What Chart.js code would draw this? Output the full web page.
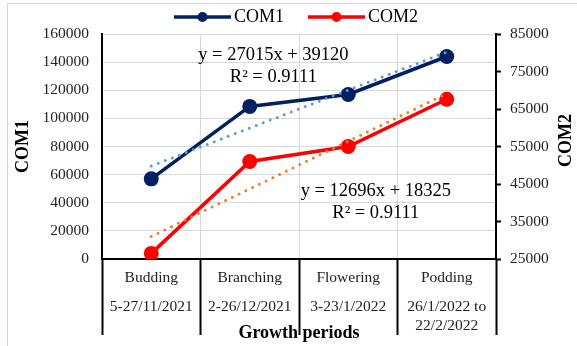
<!DOCTYPE html>
<html>
<head>
<meta charset="utf-8">
<script src="https://cdn.jsdelivr.net/npm/chart.js@4.4.0/dist/chart.umd.min.js"></script>
<style>
  html, body { margin: 0; padding: 0; background: #fff; overflow: hidden; }
  #frame { position: absolute; left: 7px; top: 3px; width: 620px; height: 400px; border: 1px solid #d9d9d9; }
  #chart { position: absolute; left: 0; top: 0; }
</style>
</head>
<body>
<div id="frame"></div>
<canvas id="chart" width="577" height="346"></canvas>
<script>
// growth stages and their date ranges
const periods = ["Budding", "Branching", "Flowering", "Podding"];
const periodDates = [["5-27/11/2021"], ["2-26/12/2021"], ["3-23/1/2022"], ["26/1/2022 to", "22/2/2022"]];

// measured values (COM1 on left axis, COM2 on right axis)
const com1 = [57000, 108500, 117000, 144000];
const com2 = [26500, 51000, 55000, 67600];

// linear trend values read at each stage
const com1Trend = [66135, 93150, 120165, 147180];
const com2Trend = [31021, 43717, 56413, 69109];
const trendText = [
  ["y = 27015x + 39120", "R\u00b2 = 0.9111"],
  ["y = 12696x + 18325", "R\u00b2 = 0.9111"]
];

// axis ticks
const com1Ticks = { min: 0, max: 160000, step: 20000 };
const com2Ticks = { min: 25000, max: 85000, step: 10000 };

const SERIF = '"Liberation Serif", "Times New Roman", serif';

// multi-level style labels: name, gap, date lines
const labels = periods.map((p, i) => {
  const d = periodDates[i];
  return d.length > 1 ? [p, "", "", d[0], "", d[1]] : [p, "", "", d[0]];
});

function legendMark(color) {
  const c = document.createElement("canvas");
  c.width = 57;
  c.height = 14;
  const g = c.getContext("2d");
  g.strokeStyle = color;
  g.lineWidth = 3.5;
  g.beginPath();
  g.moveTo(0, 7);
  g.lineTo(57, 7);
  g.stroke();
  g.fillStyle = color;
  g.beginPath();
  g.arc(28.5, 7, 5, 0, Math.PI * 2);
  g.fill();
  return c;
}

const equationPlugin = {
  id: "equations",
  afterDatasetsDraw(chart) {
    const { ctx, scales } = chart;
    const spots = [
      { at: 1.24, axis: "y", value: 145000 },
      { at: 2.28, axis: "y1", value: 43100 }
    ];
    ctx.save();
    ctx.font = "18.5px " + SERIF;
    ctx.fillStyle = "#000";
    ctx.textAlign = "center";
    ctx.textBaseline = "middle";
    spots.forEach((s, i) => {
      const x = scales.x.getPixelForValue(s.at);
      const y = scales[s.axis].getPixelForValue(s.value);
      ctx.fillText(trendText[i][0], x, y);
      ctx.fillText(trendText[i][1], x, y + 22);
    });
    ctx.restore();
  }
};

// right axis title reads bottom-to-top like Excel
const rightTitlePlugin = {
  id: "rightTitle",
  afterDraw(chart) {
    const { ctx, chartArea } = chart;
    ctx.save();
    ctx.translate(chart.width - 11, (chartArea.top + chartArea.bottom) / 2 - 6);
    ctx.rotate(-Math.PI / 2);
    ctx.font = "bold 18px " + SERIF;
    ctx.fillStyle = "#000";
    ctx.textAlign = "center";
    ctx.textBaseline = "middle";
    ctx.fillText("COM2", 0, 0);
    ctx.restore();
  }
};

const ctx = document.getElementById("chart").getContext("2d");
new Chart(ctx, {
  type: "line",
  data: {
    labels: labels,
    datasets: [
      {
        label: "COM1 trend",
        data: com1Trend,
        yAxisID: "y",
        borderColor: "#5b9bd5",
        borderWidth: 3,
        borderDash: [0, 7.5],
        borderCapStyle: "round",
        pointRadius: 0,
        fill: false
      },
      {
        label: "COM2 trend",
        data: com2Trend,
        yAxisID: "y1",
        borderColor: "#ed7d31",
        borderWidth: 3,
        borderDash: [0, 7.5],
        borderCapStyle: "round",
        pointRadius: 0,
        fill: false
      },
      {
        label: "COM1",
        data: com1,
        yAxisID: "y",
        borderColor: "#002060",
        backgroundColor: "#002060",
        borderWidth: 3.5,
        pointRadius: 7.5,
        pointBorderWidth: 0,
        pointBackgroundColor: "#002060"
      },
      {
        label: "COM2",
        data: com2,
        yAxisID: "y1",
        borderColor: "#ff0000",
        backgroundColor: "#ff0000",
        borderWidth: 3.5,
        pointRadius: 7.5,
        pointBorderWidth: 0,
        pointBackgroundColor: "#ff0000"
      }
    ]
  },
  options: {
    responsive: false,
    animation: false,
    events: [],
    layout: { padding: { top: -22, left: 0, right: 0, bottom: 0 } },
    plugins: {
      tooltip: { enabled: false },
      legend: {
        position: "top",
        fullSize: false,
        maxHeight: 56,
        labels: {
          usePointStyle: true,
          pointStyleWidth: 45,
          padding: 30,
          color: "#000",
          font: { family: SERIF, size: 18 },
          generateLabels: (chart) => [2, 3].map((i) => {
            const ds = chart.data.datasets[i];
            return {
              text: ds.label,
              pointStyle: legendMark(ds.borderColor),
              fontColor: "#000",
              datasetIndex: i,
              lineWidth: 0,
              strokeStyle: "transparent",
              fillStyle: "transparent"
            };
          })
        }
      }
    },
    scales: {
      x: {
        type: "category",
        offset: true,
        grid: {
          offset: true,
          color: "#d9d9d9",
          lineWidth: 1,
          tickLength: 76,
          tickColor: "#000",
          tickWidth: 2
        },
        border: { color: "#000", width: 2 },
        ticks: {
          autoSkip: false,
          maxRotation: 0,
          padding: -61.8,
          color: "#222",
          font: { family: SERIF, size: 15.5, lineHeight: "9.67px" }
        },
        title: {
          display: true,
          text: "Growth periods",
          color: "#000",
          font: { family: SERIF, size: 18, weight: "bold" },
          padding: { top: 0, bottom: 2 }
        },
        afterFit: (s) => { s.height = 87; }
      },
      y: {
        position: "left",
        min: com1Ticks.min,
        max: com1Ticks.max,
        grid: { color: "#d9d9d9", drawTicks: false },
        border: { color: "#000", width: 2 },
        ticks: {
          stepSize: com1Ticks.step,
          padding: 13,
          color: "#222",
          font: { family: SERIF, size: 15.5 },
          callback: (v) => String(v)
        },
        title: {
          display: true,
          text: "COM1",
          color: "#000",
          font: { family: SERIF, size: 18, weight: "bold" },
          padding: { top: 13, bottom: 0 }
        },
        afterFit: (s) => { s.width = 102; }
      },
      y1: {
        position: "right",
        min: com2Ticks.min,
        max: com2Ticks.max,
        grid: { drawOnChartArea: false, tickLength: 5, tickColor: "#000", tickWidth: 2 },
        border: { color: "#000", width: 2 },
        ticks: {
          stepSize: com2Ticks.step,
          padding: 9,
          color: "#222",
          font: { family: SERIF, size: 15.5 },
          callback: (v) => String(v)
        },
        afterFit: (s) => { s.width = 81; }
      }
    }
  },
  plugins: [equationPlugin, rightTitlePlugin]
});
</script>
</body>
</html>
